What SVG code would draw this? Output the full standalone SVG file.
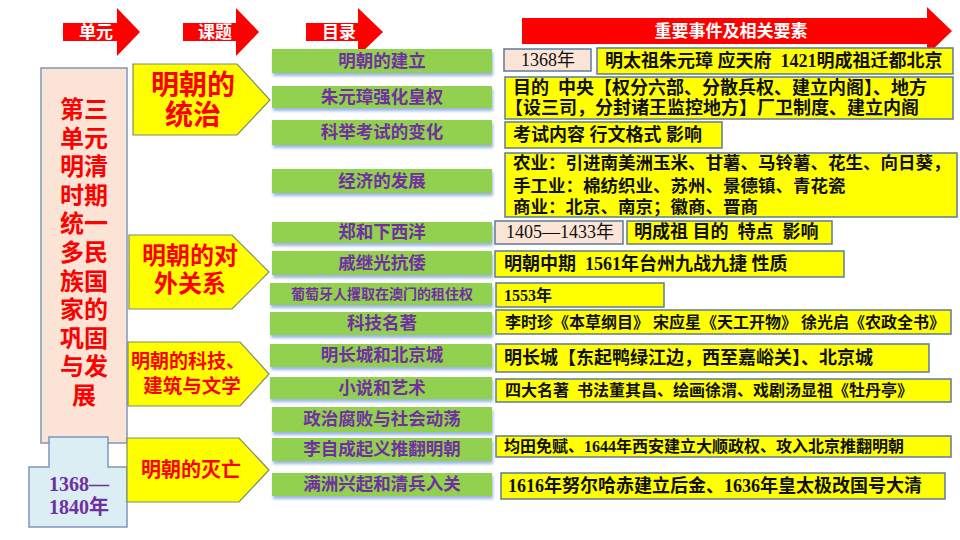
<svg xmlns="http://www.w3.org/2000/svg" width="960" height="540" viewBox="0 0 960 540">
<defs>
<style>
text{font-family:"Liberation Serif","Noto Sans CJK SC",serif;font-weight:bold;dominant-baseline:central;white-space:pre}
.hdr{fill:#FF0000}
.ht{fill:#FFFFFF;font-size:17px;text-anchor:middle}
.grn{fill:#92D050;filter:url(#sh)}
.gt{fill:#7030A0;font-size:17.5px;text-anchor:middle}
.yb{fill:#FFFF00;stroke:#5F7A99;stroke-width:1.5}
.pb{fill:#FCE4D6;stroke:#5F7A99;stroke-width:1.5}
.bt{fill:#111111;font-size:18px}
.s16{font-size:16px}
.s175{font-size:17.5px}
.nw{font-weight:normal}
.pent{fill:#FFFF00;stroke:#7F8C6A;stroke-width:1.2}
.pt{fill:#FF0000;text-anchor:middle}
.lt{fill:#FF0000;font-size:24px;text-anchor:middle}
</style>
<filter id="sh" x="-5%" y="-30%" width="110%" height="170%">
<feDropShadow dx="1" dy="3" stdDeviation="1.5" flood-color="#8FB0E0" flood-opacity="0.9"/>
</filter>
</defs>
<rect width="960" height="540" fill="#FFFFFF"/>

<g id="headers">
<g id="h-unit"><polygon class="hdr" points="63,23 117,23 117,8 140,32 117,56 117,41 63,41"/><text class="ht" x="96" y="32">单元</text></g>
<g id="h-topic"><polygon class="hdr" points="183,23 236,23 236,8 259,32 236,56 236,41 183,41"/><text class="ht" x="215" y="32">课题</text></g>
<g id="h-toc"><polygon class="hdr" points="306,23 358,23 358,8 383,32 358,56 358,41 306,41"/><text class="ht" x="339" y="32">目录</text></g>
<g id="h-events"><polygon class="hdr" points="522,18 927,18 927,7 952,31 927,55 927,44 522,44"/><text class="ht" x="731" y="31">重要事件及相关要素</text></g>
</g>

<g id="unit">
<rect x="41" y="68" width="86" height="375" fill="#FBE4D5" stroke="#7F97BF" stroke-width="1.5"/>
<text class="lt" x="84" y="110">第三</text>
<text class="lt" x="84" y="138.6">单元</text>
<text class="lt" x="84" y="167.2">明清</text>
<text class="lt" x="84" y="195.8">时期</text>
<text class="lt" x="84" y="224.4">统一</text>
<text class="lt" x="84" y="253">多民</text>
<text class="lt" x="84" y="281.6">族国</text>
<text class="lt" x="84" y="310.2">家的</text>
<text class="lt" x="84" y="338.8">巩固</text>
<text class="lt" x="84" y="367.4">与发</text>
<text class="lt" x="84" y="396">展</text>
</g>

<g id="period">
<path d="M49,437 H108 V467 H127 V527 H29 V467 H49 Z" fill="#DAEEF3" stroke="#7F97BF" stroke-width="1.5"/>
<text x="79" y="484" fill="#7030A0" font-size="20" text-anchor="middle">1368—</text>
<text x="79" y="507" fill="#7030A0" font-size="20" text-anchor="middle">1840年</text>
</g>

<g id="topic1"><polygon class="pent" points="133,64 237,64 270,100 237,135 133,135"/>
<text class="pt" x="193" y="85" font-size="28">明朝的</text><text class="pt" x="193" y="115" font-size="28">统治</text></g>
<g id="topic2"><polygon class="pent" points="129,235 232,235 269,272 232,309 129,309"/>
<text class="pt" x="190" y="256" font-size="24">明朝的对</text><text class="pt" x="190" y="284" font-size="24">外关系</text></g>
<g id="topic3"><polygon class="pent" points="128,342 240,342 269,374 240,406 128,406"/>
<text class="pt" x="188" y="361" font-size="19">明朝的科技、</text><text class="pt" x="192" y="386" font-size="19.5">建筑与文学</text></g>
<g id="topic4"><polygon class="pent" points="127,438 239,438 269,470 239,502 127,502"/>
<text class="pt" x="191" y="470" font-size="20">明朝的灭亡</text></g>

<g id="toc">
<g id="t1"><rect class="grn" x="272" y="49" width="220" height="24"/><text class="gt" x="382" y="61">明朝的建立</text></g>
<g id="t2"><rect class="grn" x="272" y="86" width="220" height="22"/><text class="gt" x="382" y="97">朱元璋强化皇权</text></g>
<g id="t3"><rect class="grn" x="272" y="120" width="220" height="25"/><text class="gt" x="382" y="132">科举考试的变化</text></g>
<g id="t4"><rect class="grn" x="272" y="169" width="220" height="24"/><text class="gt" x="382" y="181">经济的发展</text></g>
<g id="t5"><rect class="grn" x="272" y="222" width="220" height="21"/><text class="gt" x="382" y="232">郑和下西洋</text></g>
<g id="t6"><rect class="grn" x="272" y="251" width="220" height="24"/><text class="gt" x="382" y="263">戚继光抗倭</text></g>
<g id="t7"><rect class="grn" x="270" y="283" width="222" height="22"/><text class="gt" x="382" y="294" style="font-size:14px">葡萄牙人攫取在澳门的租住权</text></g>
<g id="t8"><rect class="grn" x="270" y="312" width="222" height="23"/><text class="gt" x="382" y="323">科技名著</text></g>
<g id="t9"><rect class="grn" x="270" y="344" width="222" height="23"/><text class="gt" x="382" y="355">明长城和北京城</text></g>
<g id="t10"><rect class="grn" x="270" y="377" width="222" height="22"/><text class="gt" x="382" y="388">小说和艺术</text></g>
<g id="t11"><rect class="grn" x="272" y="407" width="220" height="25"/><text class="gt" x="382" y="419">政治腐败与社会动荡</text></g>
<g id="t12"><rect class="grn" x="272" y="438" width="220" height="23"/><text class="gt" x="382" y="449">李自成起义推翻明朝</text></g>
<g id="t13"><rect class="grn" x="272" y="473" width="220" height="23"/><text class="gt" x="382" y="484">满洲兴起和清兵入关</text></g>
</g>

<g id="events">
<g id="e1a"><rect class="pb" x="504" y="49" width="87" height="22"/><text class="bt nw" x="548" y="60" text-anchor="middle">1368年</text></g>
<g id="e1b"><rect class="yb" x="597" y="48" width="356" height="26"/><text class="bt" x="605" y="61">明太祖朱元璋 应天府  1421明成祖迁都北京</text></g>
<g id="e2"><rect class="yb" x="505" y="77" width="448" height="42"/>
<text class="bt" x="513" y="88">目的  中央【权分六部、分散兵权、建立内阁】、地方</text>
<text class="bt" x="505" y="108">【设三司，分封诸王监控地方】厂卫制度、建立内阁</text></g>
<g id="e3"><rect class="yb" x="505" y="122" width="217" height="26"/><text class="bt" x="513" y="135">考试内容 行文格式 影响</text></g>
<g id="e4"><rect class="yb" x="505" y="153" width="452" height="64"/>
<text class="bt s175" x="513" y="163">农业：引进南美洲玉米、甘薯、马铃薯、花生、向日葵，</text>
<text class="bt s175" x="513" y="186">手工业：棉纺织业、苏州、景德镇、青花瓷</text>
<text class="bt s175" x="513" y="207">商业：北京、南京；徽商、晋商</text></g>
<g id="e5a"><rect class="pb" x="495" y="221" width="128" height="23"/><text class="bt nw" x="506" y="232">1405—1433年</text></g>
<g id="e5b"><rect class="yb" x="627" y="221" width="205" height="23"/><text class="bt" x="634" y="232">明成祖 目的  特点  影响</text></g>
<g id="e6"><rect class="yb" x="495" y="251" width="349" height="26"/><text class="bt" x="504" y="264">明朝中期  1561年台州九战九捷 性质</text></g>
<g id="e7"><rect class="yb" x="496" y="283" width="168" height="24"/><text class="bt s16" x="504" y="295">1553年</text></g>
<g id="e8"><rect class="yb" x="496" y="310" width="455" height="24"/><text class="bt s16" x="505" y="322">李时珍《本草纲目》 宋应星《天工开物》 徐光启《农政全书》</text></g>
<g id="e9"><rect class="yb" x="496" y="344" width="433" height="28"/><text class="bt" x="504" y="358">明长城【东起鸭绿江边，西至嘉峪关】、北京城</text></g>
<g id="e10"><rect class="yb" x="496" y="379" width="455" height="23"/><text class="bt s16" x="505" y="390">四大名著  书法董其昌、绘画徐渭、戏剧汤显祖《牡丹亭》</text></g>
<g id="e11"><rect class="yb" x="496" y="436" width="455" height="21"/><text class="bt s16" x="504" y="446">均田免赋、1644年西安建立大顺政权、攻入北京推翻明朝</text></g>
<g id="e12"><rect class="yb" x="501" y="473" width="444" height="26"/><text class="bt" x="508" y="486">1616年努尔哈赤建立后金、1636年皇太极改国号大清</text></g>
</g>
<g id="connectors"/>
</svg>
